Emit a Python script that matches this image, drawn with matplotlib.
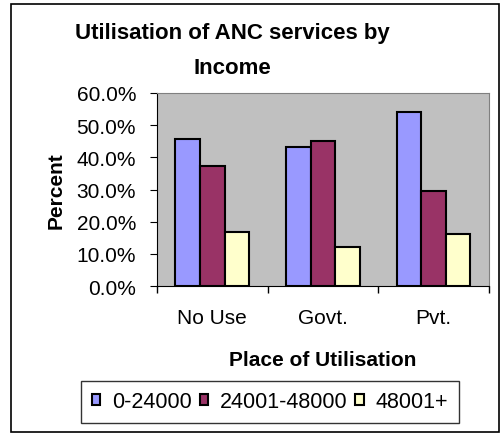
import matplotlib.pyplot as plt
import numpy as np
from matplotlib.patches import Rectangle
from matplotlib.ticker import PercentFormatter

plt.rcParams['font.family'] = ['Liberation Sans', 'DejaVu Sans']

places = ['No Use', 'Govt.', 'Pvt.']
income_groups = ['0-24000', '24001-48000', '48001+']
low = [45.7, 43.2, 54.0]
mid = [37.4, 45.1, 29.5]
high = [16.8, 12.2, 16.2]
colors = ['#9999FF', '#993366', '#FFFFCC']

fig = plt.figure(figsize=(5.02, 4.35), dpi=100)
ax = fig.add_axes([0.3127, 0.340, 0.6613, 0.444])
ax.set_facecolor('#C0C0C0')

x = np.arange(len(places))
w = 0.222
for i, (vals, lab) in enumerate(zip([low, mid, high], income_groups)):
    ax.bar(x + (i - 1) * w, vals, w, color=colors[i], edgecolor='black',
           linewidth=1.5, label=lab)

ax.set_xlim(-0.5, 2.5)
ax.set_ylim(0, 60)
ax.set_yticks(np.arange(0, 61, 10))
ax.yaxis.set_major_formatter(PercentFormatter(decimals=1))
ax.set_xticks(x)
ax.set_xticklabels(places)
ax.set_xticks([-0.5, 0.5, 1.5, 2.5], minor=True)
ax.tick_params(axis='x', which='major', length=0, pad=16, labelsize=15)
ax.tick_params(axis='x', which='minor', length=5, direction='out', width=1)
ax.tick_params(axis='y', length=5, direction='out', labelsize=15, pad=10)

for s in ['top', 'right']:
    ax.spines[s].set_color('#808080')
for s in ['left', 'bottom']:
    ax.spines[s].set_color('black')

ax.set_ylabel('Percent', fontsize=15, fontweight='bold', labelpad=8)
ax.set_xlabel('Place of Utilisation', fontsize=15, fontweight='bold', labelpad=16)

fig.text(0.462, 0.883, 'Utilisation of ANC services by\nIncome', ha='center',
         va='center', fontsize=16, fontweight='bold', linespacing=1.85)

leg = fig.legend(loc='center', bbox_to_anchor=(0.5378, 0.0736), ncol=3,
                 fontsize=15.5, frameon=True, fancybox=False, edgecolor='black',
                 handlelength=0.4, handleheight=0.4, handletextpad=0.55,
                 columnspacing=0.35, borderpad=0.5, borderaxespad=0)
leg.get_frame().set_linewidth(1.0)

fig.patches.append(Rectangle((0.022, 0.005), 0.972, 0.983, transform=fig.transFigure,
                             fill=False, edgecolor='black', linewidth=1.2))

fig.savefig('out.png', dpi=100)
